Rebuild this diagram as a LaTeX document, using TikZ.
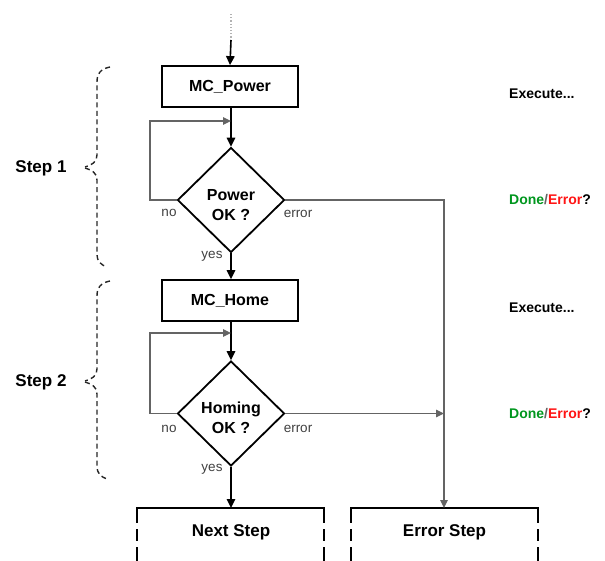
\documentclass[tikz,border=0pt]{standalone}
\usepackage{fontspec}
\setmainfont{Liberation Sans}
\usetikzlibrary{shapes.geometric,arrows.meta}
\definecolor{okgreen}{RGB}{0,150,30}
\definecolor{errred}{RGB}{255,20,20}
\definecolor{thinline}{RGB}{100,100,100}
\tikzset{
  procbox/.style={draw=black,line width=1.8pt,rectangle,minimum width=136pt,minimum height=41pt,inner sep=0pt,font=\fontsize{16}{18}\selectfont\bfseries},
  decbox/.style={draw=black,line width=1.8pt,diamond,aspect=1,minimum width=107pt,minimum height=105pt,inner sep=0pt},
  dectext/.style={font=\fontsize{16}{20}\selectfont\bfseries,align=center,inner sep=0pt},
  mainarrow/.style={line width=1.6pt,-{Triangle[length=9pt,width=8.5pt]}},
  thinarrow/.style={line width=1.1pt,draw=thinline,-{Triangle[length=8pt,width=7.5pt]}},
  smalllbl/.style={font=\fontsize{13.5}{15}\selectfont,text=black!75,inner sep=0pt},
  sidelbl/.style={font=\fontsize{14}{16}\selectfont\bfseries,anchor=west,inner sep=0pt},
  steplbl/.style={font=\fontsize{17}{19}\selectfont\bfseries,inner sep=0pt},
  bracestyle/.style={line width=1.4pt,dash pattern=on 5pt off 3.5pt,black!85},
  endtext/.style={font=\fontsize{17}{19}\selectfont\bfseries,inner sep=0pt},
  endtop/.style={line width=1.8pt},
  endside/.style={line width=1.8pt,dash pattern=on 16pt off 6pt on 12pt off 6pt},
}
\begin{document}
\begin{tikzpicture}[x=1pt,y=-1pt]
\useasboundingbox (0,0) rectangle (605,560);
% top input
\coordinate (in0) at (231,14);
\coordinate (in1) at (231,40);
\draw[line width=1.2pt,black!30,dotted] (in0) -- (in1);
% step 1
\node[procbox] (p1) at (230,86.5) {MC\_Power};
\node[decbox] (d1) at (231,200) {};
\node[dectext] (d1t) at (231,205) {Power\\OK ?};
\coordinate (j1) at (231,121);
\draw[mainarrow] (in1) -- (p1.north);
\draw[mainarrow] (p1.south -| d1.north) -- (d1.north);
\draw[thinarrow] (d1.west) -- (150,200) -- (150,121) -- (j1);
% step 2
\node[procbox] (p2) at (230,300.5) {MC\_Home};
\node[decbox] (d2) at (231,413.5) {};
\node[dectext] (d2t) at (231,418) {Homing\\OK ?};
\coordinate (j2) at (231,333);
\draw[mainarrow] (d1.south) -- (p2.north -| d1.south);
\draw[mainarrow] (p2.south -| d2.north) -- (d2.north);
\draw[thinarrow] (d2.west) -- (150,413.5) -- (150,333) -- (j2);
% labels on diamonds
\node[smalllbl] (no1) at (169,213) {no};
\node[smalllbl] (er1) at (298,214) {error};
\node[smalllbl] (ys1) at (212,256) {yes};
\node[smalllbl] (no2) at (169,429) {no};
\node[smalllbl] (er2) at (298,429) {error};
\node[smalllbl] (ys2) at (212,469) {yes};
% end boxes
\coordinate (ntop) at (231,508);
\coordinate (etop) at (444,508);
\node[endtext] (next) at (231,532) {Next Step};
\node[endtext] (err) at (444.5,532) {Error Step};
\draw[endtop] (137,508) -- (324,508);
\draw[endside] (137,507.1) -- (137,562);
\draw[endside] (324,507.1) -- (324,562);
\draw[endtop] (351,508) -- (538,508);
\draw[endside] (351,507.1) -- (351,562);
\draw[endside] (538,507.1) -- (538,562);
\draw[mainarrow] (d2.south) -- (ntop);
% error paths
\coordinate (ej) at (444,413.5);
\draw[thinarrow] (d1.east) -- (444,200) -- (etop);
\draw[thinarrow] (d2.east) -- (ej);
% side texts
\node[sidelbl] (ex1) at (509,94) {Execute...};
\node[sidelbl] (de1) at (509,200) {\textcolor{okgreen}{Done}\textcolor{thinline}{/}\textcolor{errred}{Error}?};
\node[sidelbl] (ex2) at (509,308) {Execute...};
\node[sidelbl] (de2) at (509,414) {\textcolor{okgreen}{Done}\textcolor{thinline}{/}\textcolor{errred}{Error}?};
% braces
\draw[bracestyle] (110,67) .. controls (100,69) and (97,74) .. (97,82) -- (97,155) .. controls (97,162) and (92,165) .. (85,167);
\draw[bracestyle] (85,168) .. controls (92,170) and (97,173) .. (97,180) -- (97,255) .. controls (97,261) and (101,265) .. (107,267);
\node[steplbl] (s1) at (41,168) {Step 1};
\draw[bracestyle] (110,281) .. controls (100,283) and (97,288) .. (97,296) -- (97,369) .. controls (97,376) and (92,379) .. (85,381);
\draw[bracestyle] (85,382) .. controls (92,384) and (97,387) .. (97,394) -- (97,467) .. controls (97,473) and (101,477) .. (107,479);
\node[steplbl] (s2) at (41,382) {Step 2};
\end{tikzpicture}
\end{document}
